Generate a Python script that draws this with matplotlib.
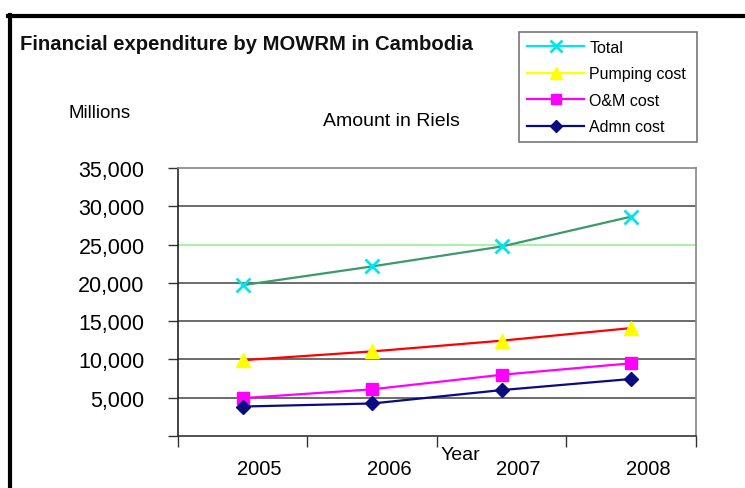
import matplotlib.pyplot as plt
from matplotlib.lines import Line2D
import matplotlib.transforms as mtransforms

plt.rcParams['font.family'] = ['Liberation Sans', 'DejaVu Sans']

years = ["2005", "2006", "2007", "2008"]
total = [19700, 22150, 24750, 28650]
pumping = [9900, 11050, 12450, 14100]
om_cost = [4950, 6100, 8000, 9500]
admn_cost = [3850, 4250, 6000, 7450]
y_ticks = [0, 5000, 10000, 15000, 20000, 25000, 30000, 35000]

fig = plt.figure(figsize=(7.45, 4.89), dpi=100)
ax = fig.add_axes([0.2389, 0.1063, 0.6953, 0.5481])

x = list(range(1, len(years) + 1))

# horizontal grid, 25,000 line drawn light green like the original
for v in y_ticks[1:-1]:
    ax.axhline(v, color="#90ee90" if v == 25000 else "#444444", lw=1.1, zorder=1)

ax.plot(x, total, color="#3a9a6a", lw=1.6, zorder=3)
ax.plot(x, total, ls="none", marker="x", ms=10, mew=2, color="#00e5ee", zorder=4)
ax.plot(x, pumping, color="red", lw=1.6, zorder=3)
ax.plot(x, pumping, ls="none", marker="^", ms=10, color="yellow", zorder=4)
ax.plot(x, om_cost, color="magenta", lw=1.6, marker="s", ms=8, mfc="magenta", zorder=3)
ax.plot(x, admn_cost, color="#0b0b80", lw=1.6, marker="D", ms=7, zorder=3)

ax.set_xlim(0.5, 4.5)
ax.set_ylim(0, 35000)
ax.set_yticks(y_ticks)
ax.set_yticklabels([""] + [f"{v:,}" for v in y_ticks[1:]], fontsize=15.5)
ax.tick_params(axis="y", length=7, width=1, color="#333333", pad=17)
ax.set_xticks([0.5, 1.5, 2.5, 3.5, 4.5])
ax.set_xticklabels([])
ax.tick_params(axis="x", length=8, width=1, color="#333333")

trans = mtransforms.blended_transform_factory(ax.transData, ax.transAxes)
for xi, yr in zip(x, years):
    ax.text(xi + 0.13, -0.12, yr, transform=trans, ha="center", va="center", fontsize=14.5)
ax.text(2.68, -0.068, "Year", transform=trans, ha="center", va="center", fontsize=14)

ax.spines["left"].set_color("#222222")
ax.spines["bottom"].set_color("#333333")
ax.spines["top"].set_color("#888888")
ax.spines["right"].set_color("#888888")
for s in ax.spines.values():
    s.set_linewidth(1.2)

fig.text(20 / 745, 1 - 45 / 489, "Financial expenditure by MOWRM in Cambodia",
         fontsize=14.6, fontweight="bold", ha="left", va="center", color="#111111")
fig.text(100 / 745, 1 - 114 / 489, "Millions", fontsize=13.5, ha="center", va="center")
fig.text(391 / 745, 1 - 122 / 489, "Amount in Riels", fontsize=14, ha="center", va="center")

handles = [
    Line2D([], [], color="#00e5ee", lw=1.6, marker="x", ms=9, mew=2),
    Line2D([], [], color="yellow", lw=1.6, marker="^", ms=9),
    Line2D([], [], color="magenta", lw=1.6, marker="s", ms=7),
    Line2D([], [], color="#0b0b80", lw=1.6, marker="D", ms=6),
]
labels = ["Total", "Pumping cost", "O&M cost", "Admn cost"]
leg = fig.legend(handles, labels, loc="upper left",
                 bbox_to_anchor=(519 / 745, 1 - 148 / 489, 178 / 745, 115 / 489),
                 mode="expand", borderaxespad=0,
                 fontsize=11.5, frameon=True, fancybox=False, edgecolor="#555555",
                 handlelength=3.6, labelspacing=0.72, borderpad=0.5, handletextpad=0.3)
leg.get_frame().set_linewidth(1.2)

# outer chart border (cut off at right and bottom in the original)
fig.add_artist(Line2D([9.5 / 745, 9.5 / 745], [0, 1 - 16 / 489], color="black", lw=3,
                      transform=fig.transFigure))
fig.add_artist(Line2D([8 / 745, 1], [1 - 16.5 / 489, 1 - 16.5 / 489], color="black", lw=3,
                      transform=fig.transFigure))

fig.savefig("out.png", dpi=100)
